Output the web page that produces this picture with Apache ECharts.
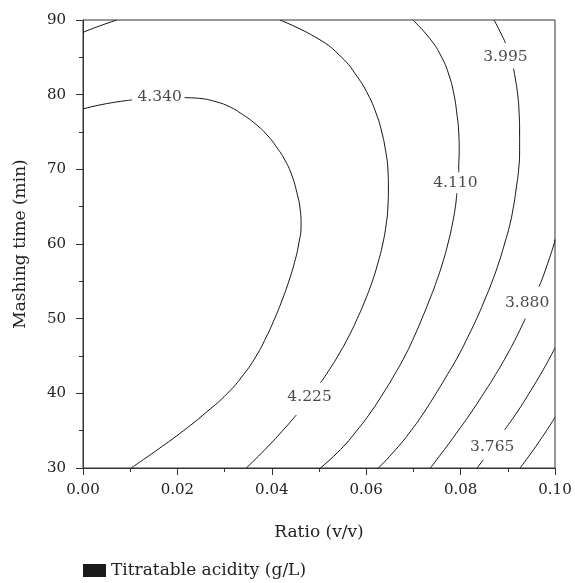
<!DOCTYPE html>
<html>
<head>
<meta charset="utf-8">
<script src="https://cdn.jsdelivr.net/npm/echarts@6/dist/echarts.min.js"></script>
<style>
html,body{margin:0;padding:0;background:#fff;}
#chart{width:575px;height:583px;}
</style>
</head>
<body>
<div id="chart"></div>
<script>
// ---- data ----
const xTicks = [0.00, 0.02, 0.04, 0.06, 0.08, 0.10];
const yTicks = [30, 40, 50, 60, 70, 80, 90];
const legendName = 'Titratable acidity (g/L)';

// contour polylines [ratio, time]; each level may be split at its label
const contour4455 = [[0, 88.35], [0.0035, 89.2], [0.0072, 90]];
const contour4340a = [[0, 78.1], [0.005, 78.8], [0.0104, 79.3]];
const contour4340b = [[0.0215, 79.6], [0.0247, 79.5], [0.0279, 79.1], [0.0310, 78.4], [0.0338, 77.35], [0.0365, 76.1], [0.0390, 74.6], [0.0411, 72.9], [0.0429, 71.1], [0.0443, 69.1], [0.0453, 66.9], [0.0460, 64.7], [0.0462, 62.5], [0.0457, 60], [0.0448, 57.5], [0.0436, 55], [0.0422, 52.5], [0.0406, 50], [0.0388, 47.5], [0.0367, 45], [0.0340, 42.5], [0.0306, 40], [0.0262, 37.5], [0.0213, 35], [0.0159, 32.5], [0.0102, 30]];
const contour4225a = [[0.0417, 90], [0.0498, 87.5], [0.0548, 85], [0.0580, 82.5], [0.0604, 80], [0.0621, 77.5], [0.0633, 75], [0.0641, 72.5], [0.0646, 70], [0.0647, 67.5], [0.0646, 65], [0.0642, 62.5], [0.0635, 60], [0.0625, 57.5], [0.0613, 55], [0.0598, 52.5], [0.0581, 50], [0.0562, 47.5], [0.0540, 45], [0.0515, 42.5], [0.0503, 41.4]];
const contour4225b = [[0.0452, 37.1], [0.0423, 35], [0.0386, 32.5], [0.0346, 30]];
const contour4110a = [[0.0699, 90], [0.0735, 87.5], [0.0760, 85], [0.0776, 82.5], [0.0786, 80], [0.0792, 77.5], [0.0796, 75], [0.0797, 72.5], [0.0796, 70], [0.0796, 69.6]];
const contour4110b = [[0.0792, 66.8], [0.0789, 65], [0.0782, 62.5], [0.0773, 60], [0.0762, 57.5], [0.0749, 55], [0.0734, 52.5], [0.0718, 50], [0.0701, 47.5], [0.0682, 45], [0.0660, 42.5], [0.0636, 40], [0.0610, 37.5], [0.0580, 35], [0.0546, 32.5], [0.0503, 30]];
const contour3995a = [[0.0871, 90], [0.0891, 87.5], [0.0895, 86.9]];
const contour3995b = [[0.0912, 83.5], [0.0915, 82.5], [0.0921, 80], [0.0924, 77.5], [0.0925, 75], [0.0925, 72.5], [0.0923, 70], [0.0918, 67.5], [0.0912, 65], [0.0904, 62.5], [0.0893, 60], [0.0881, 57.5], [0.0867, 55], [0.0851, 52.5], [0.0834, 50], [0.0815, 47.5], [0.0795, 45], [0.0772, 42.5], [0.0748, 40], [0.0723, 37.5], [0.0695, 35], [0.0663, 32.5], [0.0626, 30]];
const contour3880a = [[0.1, 60.6], [0.0998, 60], [0.0985, 57.5], [0.0971, 55], [0.0966, 54.3]];
const contour3880b = [[0.0937, 50], [0.0918, 47.5], [0.0897, 45], [0.0874, 42.5], [0.0849, 40], [0.0823, 37.5], [0.0795, 35], [0.0766, 32.5], [0.0736, 30]];
const contour3765a = [[0.1, 46.1], [0.0991, 45], [0.0969, 42.5], [0.0945, 40], [0.0920, 37.5], [0.0893, 35.1]];
const contour3765b = [[0.0848, 31.1], [0.0835, 30]];
const contour3650 = [[0.1, 36.8], [0.0982, 35], [0.0955, 32.5], [0.0926, 30]];

// contour labels [ratio, time, text]
const contourLabels = [
  [0.01625, 79.73, '4.340'],
  [0.0480, 39.58, '4.225'],
  [0.0789, 68.2, '4.110'],
  [0.0895, 85.1, '3.995'],
  [0.0941, 52.05, '3.880'],
  [0.0867, 32.88, '3.765']
];

const contourSegments = [contour4455, contour4340a, contour4340b, contour4225a, contour4225b,
  contour4110a, contour4110b, contour3995a, contour3995b, contour3880a, contour3880b,
  contour3765a, contour3765b, contour3650];

// ---- chart ----
const FONT = 'DejaVu Serif';
const chart = echarts.init(document.getElementById('chart'), null, {renderer: 'canvas'});

const series = contourSegments.map(seg => ({
  type: 'line',
  data: seg,
  smooth: 0.5,
  showSymbol: false,
  symbol: 'none',
  silent: true,
  clip: true,
  lineStyle: {color: '#111', width: 1},
  z: 2
}));

series.push({
  type: 'scatter',
  data: contourLabels,
  symbolSize: 2,
  itemStyle: {color: 'rgba(0,0,0,0)'},
  silent: true,
  label: {
    show: true,
    position: 'inside',
    formatter: p => p.value[2],
    color: '#1a1a1a',
    fontFamily: FONT,
    fontSize: 15.5
  },
  z: 3
});

series.push({
  name: legendName,
  type: 'scatter',
  data: [],
  itemStyle: {color: '#1a1a1a', opacity: 1}
});

chart.setOption({
  animation: false,
  backgroundColor: '#fff',
  grid: {left: 83, right: 20, top: 20, bottom: 115, show: true, borderColor: '#333', borderWidth: 1},
  legend: {
    data: [{name: legendName, icon: 'rect', itemStyle: {color: '#1a1a1a', opacity: 1}}],
    left: 78,
    top: 557,
    itemWidth: 23,
    itemHeight: 13,
    itemGap: 10,
    textStyle: {fontFamily: FONT, fontSize: 17, color: '#222'}
  },
  xAxis: {
    type: 'value',
    min: xTicks[0],
    max: xTicks[xTicks.length - 1],
    interval: 0.02,
    name: 'Ratio (v/v)',
    nameLocation: 'middle',
    nameGap: 56,
    nameTextStyle: {fontFamily: FONT, fontSize: 17, color: '#222'},
    axisLine: {lineStyle: {color: '#333', width: 1}},
    axisTick: {show: true, length: 7, lineStyle: {color: '#333'}},
    minorTick: {show: true, splitNumber: 2, length: 4, lineStyle: {color: '#333'}},
    splitLine: {show: false},
    axisLabel: {
      margin: 15,
      fontFamily: FONT, fontSize: 15, color: '#222',
      formatter: v => v.toFixed(2)
    }
  },
  yAxis: {
    type: 'value',
    min: yTicks[0],
    max: yTicks[yTicks.length - 1],
    interval: 10,
    name: 'Mashing time (min)',
    nameLocation: 'middle',
    nameGap: 54,
    nameTextStyle: {fontFamily: FONT, fontSize: 17, color: '#222'},
    axisLine: {lineStyle: {color: '#333', width: 1}},
    axisTick: {show: true, length: 7, lineStyle: {color: '#333'}},
    minorTick: {show: true, splitNumber: 2, length: 4, lineStyle: {color: '#333'}},
    splitLine: {show: false},
    axisLabel: {margin: 17, fontFamily: FONT, fontSize: 15, color: '#222'}
  },
  series: series
});
</script>
</body>
</html>
